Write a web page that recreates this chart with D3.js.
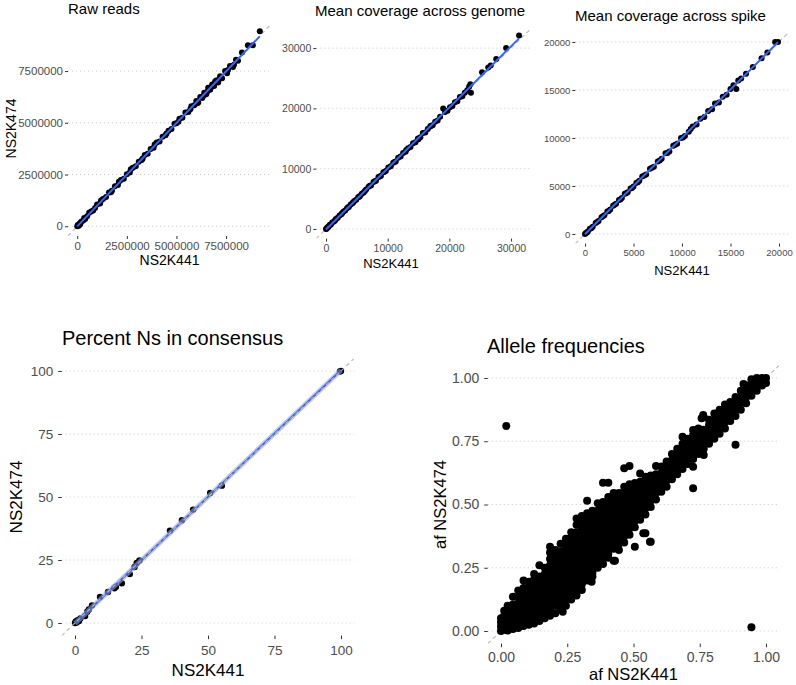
<!DOCTYPE html>
<html><head><meta charset="utf-8">
<script src="https://cdn.jsdelivr.net/npm/d3@7"></script>
<style>
body{margin:0;background:#fff}
text{font-family:"Liberation Sans",Arial,Helvetica,sans-serif}
</style>
</head><body>
<svg id="chart" width="796" height="685"></svg>
<script>
// ---------------- DATA ----------------
const titles = ["Raw reads","Mean coverage across genome","Mean coverage across spike","Percent Ns in consensus","Allele frequencies"];
const xLabel = "NS2K441", yLabel = "NS2K474";
const xLabelAF = "af NS2K441", yLabelAF = "af NS2K474";

const rawTicks = [0, 2500000, 5000000, 7500000];
const genomeTicks = [0, 10000, 20000, 30000];
const spikeTicks = [0, 5000, 10000, 15000, 20000];
const pctTicks = [0, 25, 50, 75, 100];
const afTicks = [0, 0.25, 0.5, 0.75, 1];

const rawReads = [[0,0],[30000,60000],[80000,20000],[120000,130000],[150000,100000],[200000,220000],[300000,280000],[350000,400000],
 [400000,350000],[500000,480000],[600000,650000],[700000,720000],[800000,760000],[900000,880000],[1000000,1050000],[1150000,1100000],
 [1200000,1250000],[1300000,1320000],[1450000,1420000],[1600000,1630000],[1700000,1650000],[1750000,1720000],[1900000,1930000],
 [2050000,2000000],[2100000,2150000],[2200000,2240000],[2350000,2300000],[2500000,2520000],[2650000,2600000],[2700000,2750000],
 [2800000,2830000],[2950000,2900000],[3100000,3120000],[3250000,3200000],[3300000,3280000],[3400000,3450000],[3550000,3500000],
 [3700000,3730000],[3850000,3800000],[3900000,3950000],[4000000,4050000],[4150000,4100000],[4300000,4330000],[4450000,4400000],
 [4500000,4480000],[4600000,4620000],[4750000,4700000],[4900000,4950000],[5000000,4980000],[5100000,5050000],[5150000,5200000],
 [5300000,5250000],[5450000,5500000],[5600000,5520000],[5700000,5650000],[5750000,5800000],[5900000,5850000],[6000000,6050000],
 [6050000,5950000],[6100000,5980000],[6200000,6250000],[6300000,6200000],[6350000,6300000],[6400000,6450000],[6500000,6380000],
 [6550000,6500000],[6600000,6700000],[6700000,6600000],[6750000,6720000],[6800000,6850000],[6900000,6780000],[6950000,7000000],
 [7000000,7050000],[7100000,6950000],[7150000,7100000],[7200000,7250000],[7300000,7150000],[7450000,7500000],[7550000,7400000],
 [7600000,7550000],[7700000,7750000],[7850000,7700000],[7900000,7800000],[8000000,8050000],[8100000,8000000],[8300000,8400000],
 [8600000,8750000],[8850000,8750000],[9200000,9430000]];

const genomeCov = [[0,0],[100,50],[200,250],[300,300],[400,350],[600,650],[700,700],[800,750],[1000,1050],[1300,1250],[1500,1450],
 [1600,1650],[1900,1850],[2200,2250],[2500,2450],[2600,2600],[2800,2850],[3100,3050],[3400,3450],[3600,3600],[3700,3650],
 [4000,4050],[4300,4250],[4400,4450],[4600,4650],[4900,4850],[5200,5250],[5400,5350],[5500,5450],[5800,5850],[6100,6050],
 [6300,6300],[6500,6550],[6900,7000],[7100,7150],[7300,7200],[7700,7800],[7900,7900],[8100,8000],[8500,8600],[8700,8700],
 [8900,8800],[9300,9400],[9500,9500],[9700,9600],[10100,10200],[10500,10400],[10900,11000],[11100,11100],[11300,11200],
 [11700,11800],[12100,12000],[12500,12600],[12900,12800],[13000,13100],[13300,13400],[13700,13600],[14100,14200],[14500,14400],
 [14900,15000],[15000,14900],[15300,15200],[15700,15900],[16100,16000],[16500,16600],[16900,17000],[17000,17100],[17300,17200],
 [17700,17800],[18100,18000],[18500,18600],[19000,20000],[19300,19400],[19700,19600],[20100,20200],[20500,20400],[20900,21000],
 [21300,21200],[21700,21900],[22100,22000],[22500,22600],[22900,23000],[23200,23600],[23400,24000],[23500,22600],[25300,26000],
 [26300,26800],[26700,27100],[27600,28200],[29200,30000],[31300,32100]];

const spikeCov = [[0,0],[100,100],[200,150],[300,250],[500,550],[650,600],[800,750],[1100,1150],[1250,1250],[1400,1350],[1700,1750],
 [1850,1850],[2000,1950],[2300,2350],[2450,2400],[2600,2550],[2900,2950],[3050,3050],[3200,3150],[3500,3550],[3650,3600],
 [3800,3750],[4100,4200],[4250,4250],[4400,4350],[4700,4750],[4850,4800],[5000,4950],[5300,5350],[5450,5400],[5600,5550],
 [5900,6000],[6100,6100],[6300,6200],[6700,6800],[6900,6900],[7100,7000],[7500,7550],[7700,7650],[7900,7850],[8300,8400],
 [8500,8450],[8700,8600],[9100,9200],[9300,9300],[9500,9400],[9900,10000],[10100,10050],[10300,10200],[10700,10650],[10900,10950],
 [11100,11200],[11500,11400],[11900,12000],[12300,12200],[12700,12800],[13100,13000],[13400,13600],[13800,13700],[14200,14300],
 [14600,14500],[15000,15100],[15300,15500],[15600,15100],[15800,16000],[16100,16200],[16600,16700],[17300,17400],[18200,18300],
 [18800,18900],[19600,20000],[19900,20000]];

const percentNs = [[0,0],[0.3,0.6],[0.6,0.2],[1,1.1],[1.5,0.8],[2,1.8],[3.8,2.8],[4.6,4.5],[5.2,5.4],[6.4,7],[9.4,10.3],
 [12.4,12.3],[14.8,13.8],[15.4,14.4],[17.6,15.8],[20.6,19.4],[22.4,22.2],[23.2,23.8],[24.2,24.8],[35.7,36.6],[40.2,40.8],
 [44.4,45],[50.8,51.6],[55.2,54.5],[99.6,99.8],[100,100]];

// allele frequencies, read column by column (x of column, y values in that column)
const afColX = [0.000,0.012,0.025,0.045,0.065,0.085,0.105,0.125,0.145,0.165,0.185,0.205,0.225,0.245,0.265,0.285,0.305,0.325,
 0.345,0.365,0.385,0.405,0.425,0.445,0.465,0.485,0.505,0.525,0.545,0.565,0.585,0.605,0.625,0.645,0.665,0.685,0.705,0.725,
 0.745,0.765,0.785,0.805,0.825,0.845,0.865,0.885,0.905,0.915,0.925,0.945,0.965,0.985,1.000];
const afColY = [
 [0.000,0.018,0.035,0.050],
 [0.005,0.030,0.060,0.080],
 [0.002,0.025,0.050,0.075,0.100],
 [0.008,0.030,0.055,0.080,0.105,0.135],
 [0.012,0.035,0.060,0.085,0.110,0.135,0.160],
 [0.020,0.045,0.070,0.095,0.120,0.145,0.170,0.200],
 [0.025,0.050,0.075,0.100,0.125,0.150,0.175,0.195],
 [0.030,0.055,0.080,0.105,0.130,0.155,0.180,0.205,0.225],
 [0.040,0.065,0.090,0.115,0.140,0.165,0.190,0.215,0.260],
 [0.050,0.075,0.100,0.125,0.150,0.175,0.200,0.225,0.250],
 [0.060,0.085,0.110,0.135,0.160,0.185,0.210,0.235,0.260,0.285,0.310,0.333],
 [0.070,0.100,0.125,0.150,0.175,0.200,0.225,0.250,0.275,0.300,0.320],
 [0.090,0.115,0.140,0.165,0.190,0.215,0.240,0.265,0.290,0.315,0.345],
 [0.100,0.125,0.150,0.175,0.200,0.225,0.250,0.275,0.300,0.325,0.350,0.365],
 [0.125,0.145,0.170,0.195,0.220,0.245,0.270,0.295,0.320,0.345,0.370,0.390],
 [0.140,0.165,0.190,0.215,0.240,0.265,0.290,0.315,0.340,0.365,0.390,0.420,0.445],
 [0.162,0.185,0.210,0.235,0.260,0.285,0.310,0.335,0.360,0.385,0.410,0.435,0.455],
 [0.200,0.215,0.240,0.265,0.290,0.315,0.340,0.365,0.390,0.415,0.440,0.465,0.515],
 [0.215,0.230,0.255,0.280,0.305,0.330,0.355,0.380,0.405,0.430,0.455,0.475],
 [0.250,0.275,0.300,0.325,0.350,0.375,0.400,0.425,0.450,0.475,0.505],
 [0.265,0.285,0.310,0.335,0.360,0.385,0.410,0.435,0.460,0.485,0.510,0.586],
 [0.290,0.305,0.330,0.355,0.380,0.405,0.430,0.455,0.480,0.505,0.530,0.586],
 [0.278,0.325,0.350,0.375,0.400,0.425,0.450,0.475,0.500,0.525,0.545],
 [0.320,0.345,0.370,0.395,0.420,0.445,0.470,0.495,0.520,0.545],
 [0.350,0.375,0.400,0.425,0.450,0.475,0.500,0.525,0.550,0.570,0.643],
 [0.380,0.405,0.430,0.455,0.480,0.505,0.530,0.555,0.580,0.652],
 [0.333,0.410,0.435,0.460,0.485,0.510,0.535,0.560,0.585],
 [0.440,0.465,0.490,0.515,0.540,0.565,0.590,0.623],
 [0.386,0.460,0.485,0.510,0.535,0.560,0.585,0.610],
 [0.353,0.490,0.515,0.540,0.565,0.590,0.615],
 [0.520,0.545,0.570,0.595,0.620,0.652],
 [0.550,0.575,0.600,0.625,0.650],
 [0.570,0.595,0.620,0.645,0.670],
 [0.600,0.625,0.650,0.675,0.700],
 [0.620,0.645,0.670,0.695,0.720],
 [0.640,0.665,0.690,0.715,0.740,0.768],
 [0.660,0.685,0.710,0.735,0.760],
 [0.564,0.649,0.680,0.705,0.730,0.755,0.775,0.794],
 [0.700,0.725,0.750,0.775,0.800],
 [0.696,0.720,0.745,0.770,0.795,0.845],
 [0.740,0.765,0.790,0.815,0.835],
 [0.760,0.785,0.810,0.835,0.860],
 [0.780,0.805,0.830,0.855,0.875],
 [0.800,0.825,0.850,0.875,0.895],
 [0.830,0.855,0.880,0.905],
 [0.736,0.850,0.875,0.900,0.925],
 [0.875,0.900,0.925,0.950],
 [0.976],
 [0.900,0.925,0.950,0.970],
 [0.015,0.930,0.955,0.980,0.995],
 [0.950,0.970,0.990,1.000],
 [0.970,0.990,1.000],
 [0.980,1.000]];
const afOutliers = [[0.02,0.81],[0.185,0.076],[0.233,0.076],[0.342,0.195],[0.43,0.278],[0.537,0.386],[0.562,0.353],[0.763,0.854],[0.757,0.841]];

// ---------------- DRAW ----------------
const svg = d3.select("#chart");
const blue = "#3366FF";

function lm(pts){
  const mx = d3.mean(pts, d=>d[0]), my = d3.mean(pts, d=>d[1]);
  const sxy = d3.sum(pts, d=>(d[0]-mx)*(d[1]-my)), sxx = d3.sum(pts, d=>(d[0]-mx)*(d[0]-mx));
  const b = sxy/sxx; return {a: my - b*mx, b};
}

function panel(o){
  const g = svg.append("g");
  const x = d3.scaleLinear().domain(o.xDom).range([o.left, o.right]);
  const y = d3.scaleLinear().domain(o.yDom).range([o.bottom, o.top]);
  const cid = "clip" + o.id;
  svg.append("clipPath").attr("id", cid).append("rect")
    .attr("x", o.left).attr("y", o.top).attr("width", o.right - o.left).attr("height", o.bottom - o.top);

  // horizontal dotted gridlines
  g.append("g").selectAll("line").data(o.ticks).join("line")
    .attr("x1", o.left).attr("x2", o.right).attr("y1", d=>y(d)).attr("y2", d=>y(d))
    .attr("stroke", "#c8c8c8").attr("stroke-width", 1).attr("stroke-dasharray", "1,3");

  const lo = Math.min(o.xDom[0], o.yDom[0]), hi = Math.max(o.xDom[1], o.yDom[1]);
  const ident = () => g.append("line").attr("clip-path", `url(#${cid})`)
    .attr("x1", x(lo)).attr("y1", y(lo)).attr("x2", x(hi)).attr("y2", y(hi))
    .attr("stroke", "#b8b8b8").attr("stroke-width", 1.1).attr("stroke-dasharray", "4,3");
  if (!o.identOnTop) ident();

  g.append("g").selectAll("circle").data(o.data).join("circle")
    .attr("cx", d=>x(d[0])).attr("cy", d=>y(d[1])).attr("r", o.r).attr("fill", "#000");

  if (o.fit){
    const f = lm(o.data);
    const x0 = d3.min(o.data, d=>d[0]), x1 = d3.max(o.data, d=>d[0]);
    if (o.band) g.append("line").attr("x1", x(x0)).attr("y1", y(f.a+f.b*x0)).attr("x2", x(x1)).attr("y2", y(f.a+f.b*x1))
      .attr("stroke", "#a8aab8").attr("stroke-opacity", 0.6).attr("stroke-width", 5);
    g.append("line").attr("x1", x(x0)).attr("y1", y(f.a+f.b*x0)).attr("x2", x(x1)).attr("y2", y(f.a+f.b*x1))
      .attr("stroke", blue).attr("stroke-width", o.lw);
  }
  if (o.identOnTop) ident();

  // axes
  const ax = g.append("g").attr("transform", `translate(0,${o.bottom})`)
    .call(d3.axisBottom(x).tickValues(o.xTicks).tickFormat(o.fmt).tickSize(o.tick).tickPadding(o.xPad));
  const ay = g.append("g").attr("transform", `translate(${o.left},0)`)
    .call(d3.axisLeft(y).tickValues(o.ticks).tickFormat(o.fmt).tickSize(o.tick).tickPadding(o.yPad));
  [ax, ay].forEach(a => {
    a.select(".domain").remove();
    a.selectAll(".tick line").attr("stroke", "#333").attr("stroke-width", 1);
    a.selectAll(".tick text").attr("fill", "#4d4d4d").attr("font-size", o.tickFs)
      .attr("font-family", '"Liberation Sans",Arial,sans-serif');
  });

  // titles
  svg.append("text").attr("x", o.titleX).attr("y", o.titleY).attr("font-size", o.titleFs).attr("fill", "#000").text(o.title);
  svg.append("text").attr("x", o.xTitleX != null ? o.xTitleX : (o.left + o.right)/2).attr("y", o.xTitleY)
    .attr("text-anchor", "middle").attr("font-size", o.axFs).attr("fill", "#000").text(o.xTitle);
  if (o.yTitle) svg.append("text").attr("transform", `translate(${o.yTitleX},${(o.top + o.bottom)/2}) rotate(-90)`)
    .attr("text-anchor", "middle").attr("font-size", o.axFs).attr("fill", "#000").text(o.yTitle);
}

const intFmt = d3.format("d");

panel({id:"A", data: rawReads, xDom:[-465000, 9765000], yDom:[-470000, 9920000], left:68, right:271, top:21, bottom:236,
  ticks: rawTicks, xTicks: rawTicks, fmt: intFmt, r:3, lw:2, fit:true, tick:3, xPad:3, yPad:2, tickFs:11.5,
  title: titles[0], titleX:68, titleY:14, titleFs:15, xTitle:xLabel, xTitleY:265, yTitle:yLabel, yTitleX:16, axFs:14});

panel({id:"B", data: genomeCov, xDom:[-1575, 33075], yDom:[-1600, 33600], left:316.3, right:530, top:26.4, bottom:238.6,
  ticks: genomeTicks, xTicks: genomeTicks, fmt: intFmt, r:3, lw:2, fit:true, tick:3, xPad:3, yPad:2, tickFs:10.5,
  title: titles[1], titleX:315, titleY:16, titleFs:15, xTitle:xLabel, xTitleX:391, xTitleY:268, axFs:13});

panel({id:"C", data: spikeCov, xDom:[-1000, 21000], yDom:[-1000, 21000], left:575.3, right:788.7, top:32.4, bottom:243.6,
  ticks: spikeTicks, xTicks: spikeTicks, fmt: intFmt, r:3, lw:2, fit:true, tick:3, xPad:3, yPad:2, tickFs:9.5,
  title: titles[2], titleX:575, titleY:21, titleFs:15, xTitle:xLabel, xTitleY:275, axFs:13});

panel({id:"D", data: percentNs, xDom:[-5, 105], yDom:[-5, 105], left:61.7, right:354.3, top:358.4, bottom:635.6,
  ticks: pctTicks, xTicks: pctTicks, fmt: intFmt, r:3.2, lw:1.8, fit:true, band:true, identOnTop:true, tick:3.5, xPad:6, yPad:5, tickFs:13.5,
  title: titles[3], titleX:62, titleY:345, titleFs:20, xTitle:xLabel, xTitleY:676, yTitle:yLabel, yTitleX:22, axFs:17});

const afPoints = afColX.flatMap((xv, i) => afColY[i].map(yv => [xv, yv])).concat(afOutliers);
panel({id:"E", data: afPoints, xDom:[-0.05, 1.05], yDom:[-0.05, 1.05], left:487.75, right:779.25, top:365.35, bottom:643.65,
  ticks: afTicks, xTicks: afTicks, fmt: d3.format(".2f"), r:4, fit:false, tick:3.5, xPad:5, yPad:5, tickFs:14,
  title: titles[4], titleX:487, titleY:353, titleFs:20, xTitle:xLabelAF, xTitleY:680, yTitle:yLabelAF, yTitleX:446, axFs:16.5});
</script>
</body></html>
